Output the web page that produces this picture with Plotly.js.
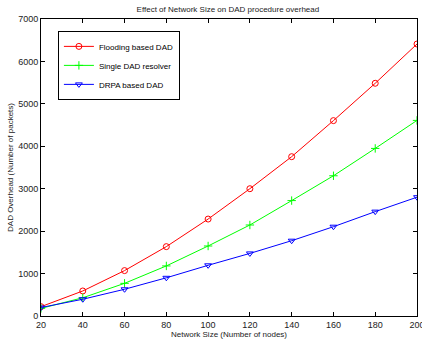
<!DOCTYPE html>
<html>
<head>
<meta charset="utf-8">
<script src="https://cdn.plot.ly/plotly-3.0.1.min.js"></script>
<style>html,body{margin:0;padding:0;background:#fff;}#chart{width:422px;height:343px;}</style>
</head>
<body>
<div id="chart"></div>
<script>
const nodes = [20, 40, 60, 80, 100, 120, 140, 160, 180, 200];
const floodingDAD = [220, 590, 1070, 1635, 2285, 3000, 3755, 4605, 5485, 6410];
const singleDAD = [180, 430, 770, 1180, 1650, 2145, 2720, 3305, 3950, 4610];
const drpaDAD = [200, 395, 630, 900, 1195, 1475, 1775, 2105, 2460, 2800];
const seriesNames = ["Flooding based DAD", "Single DAD resolver", "DRPA based DAD"];
const xTicks = [20, 40, 60, 80, 100, 120, 140, 160, 180, 200];
const yTicks = [0, 1000, 2000, 3000, 4000, 5000, 6000, 7000];

const font = {family: "Liberation Sans, Arial, sans-serif", size: 9, color: "#222"};
function tr(y, name, color, symbol, size) {
  return {x: nodes, y: y, name: name, type: "scatter", mode: "lines+markers",
    line: {color: color, width: 1},
    marker: {symbol: symbol, size: size, color: color, line: {color: color, width: 1}}};
}
const data = [
  tr(floodingDAD, seriesNames[0], "#ff0000", "circle-open", 6),
  tr(singleDAD, seriesNames[1], "#00ff00", "cross-thin-open", 6),
  tr(drpaDAD, seriesNames[2], "#0000ff", "triangle-down-open", 6)
];
const axisCommon = {showgrid: false, zeroline: false, showline: true, linecolor: "#000", linewidth: 1,
  mirror: "ticks", ticks: "inside", ticklen: 4, tickcolor: "#000", tickfont: font, ticklabeloverflow: "allow"};
const layout = {
  width: 422, height: 343,
  margin: {l: 41, r: 5, t: 19, b: 27},
  paper_bgcolor: "#fff", plot_bgcolor: "#fff",
  font: font,
  title: {text: "Effect of Network Size on DAD procedure overhead", font: {family: font.family, size: 8, color: "#222"}, x: 0.54, xanchor: "center", y: 0.982, yanchor: "top"},
  xaxis: Object.assign({}, axisCommon, {range: [20, 200], tickvals: xTicks, ticktext: xTicks.map(String),
    title: {text: "Network Size (Number of nodes)", font: {family: font.family, size: 8, color: "#222"}, standoff: 2}}),
  yaxis: Object.assign({}, axisCommon, {range: [0, 7000], tickvals: yTicks, ticktext: yTicks.map(String),
    title: {text: "DAD Overhead (Number of packets)", font: {family: font.family, size: 8, color: "#222"}, standoff: 3}}),
  showlegend: true,
  legend: {x: 0.045, y: 0.96, xanchor: "left", yanchor: "top", bgcolor: "#fff", bordercolor: "#000", borderwidth: 1,
    font: {family: font.family, size: 8, color: "#000"}, tracegroupgap: 0, itemwidth: 30}
};
Plotly.newPlot("chart", data, layout, {displayModeBar: false, staticPlot: true});
</script>
</body>
</html>
